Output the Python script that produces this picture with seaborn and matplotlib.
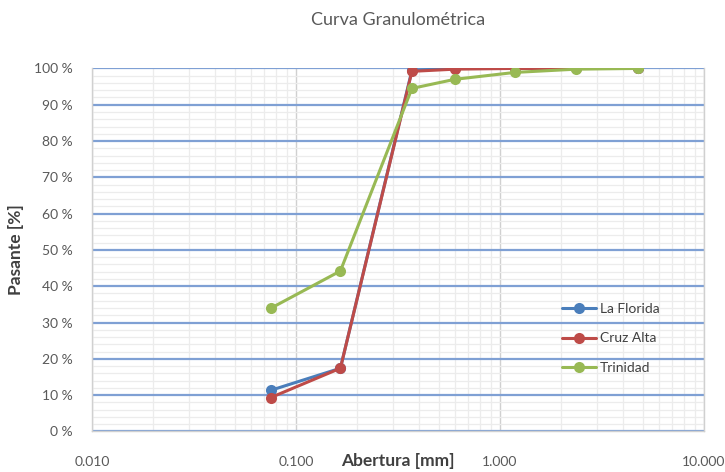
import pandas as pd
import seaborn as sns
from matplotlib import pyplot as plt
from matplotlib.ticker import FixedLocator, FuncFormatter, MultipleLocator, LogLocator

# abertura de tamices [mm]
abertura = [0.075, 0.165, 0.37, 0.60, 1.18, 2.36, 4.75]

# porcentaje pasante por muestra
la_florida = [11.3, 17.4, 99.5, 100.0, 100.0, 100.0, 100.0]
cruz_alta = [9.3, 17.4, 99.2, 99.8, 100.0, 100.0, 100.0]
trinidad = [33.9, 44.2, 94.5, 97.0, 98.9, 99.8, 100.0]

muestras = ['La Florida', 'Cruz Alta', 'Trinidad']
colores = ['#4a7ebb', '#be4b48', '#98b954']

# armar dataframe en formato largo para seaborn
frames = []
for nombre, valores in zip(muestras, [la_florida, cruz_alta, trinidad]):
    frames.append(pd.DataFrame({'Abertura': abertura, 'Pasante': valores, 'Muestra': nombre}))
data = pd.concat(frames, ignore_index=True)

sns.set_style('white')
plt.rcParams['font.family'] = ['Lato', 'DejaVu Sans']

fig, ax = plt.subplots(figsize=(7.25, 4.72), dpi=100)
fig.subplots_adjust(left=0.127, right=0.971, top=0.855, bottom=0.086)

sns.lineplot(data=data, x='Abertura', y='Pasante', hue='Muestra', hue_order=muestras,
             palette=colores, marker='o', markersize=8, markeredgewidth=0,
             linewidth=2.2, ax=ax, zorder=3)

ax.set_xscale('log')
ax.set_xlim(0.01, 10)
ax.set_ylim(0, 100)

# grillas como en excel
ax.xaxis.set_major_locator(FixedLocator([0.01, 0.1, 1, 10]))
ax.xaxis.set_minor_locator(LogLocator(base=10, subs=range(2, 10)))
ax.xaxis.set_major_formatter(FuncFormatter(lambda v, p: '{:,.3f}'.format(v)))
ax.xaxis.set_minor_formatter(FuncFormatter(lambda v, p: ''))
ax.yaxis.set_major_locator(MultipleLocator(10))
ax.yaxis.set_minor_locator(MultipleLocator(2))
ax.yaxis.set_major_formatter(FuncFormatter(lambda v, p: '{:.0f} %'.format(v)))

ax.grid(which='minor', axis='both', color='#ececec', linewidth=0.9, zorder=0)
ax.grid(which='major', axis='x', color='#d0d0d0', linewidth=1.0, zorder=0)
ax.grid(which='major', axis='y', color='#7fa0d4', linewidth=1.6, zorder=1)
ax.set_axisbelow(True)

for s in ax.spines.values():
    s.set_color('#d0d0d0')
    s.set_linewidth(1.0)
ax.spines['top'].set_visible(False)

ax.tick_params(which='both', length=0)
ax.tick_params(axis='x', pad=18, labelsize=10, labelcolor='#595959')
ax.tick_params(axis='y', pad=14, labelsize=10, labelcolor='#595959')

ax.set_title('Curva Granulométrica', fontsize=13, color='#595959', pad=31)
ax.set_xlabel('Abertura [mm]', fontsize=12.5, fontweight='bold', color='#404040')
ax.set_ylabel('Pasante [%]', fontsize=12.5, fontweight='bold', color='#404040')
ax.xaxis.set_label_coords(0.5, -0.06)
ax.yaxis.set_label_coords(-0.112, 0.5)

leg = ax.legend(loc='upper left', bbox_to_anchor=(0.748, 0.388), frameon=False,
                fontsize=10, labelspacing=1.25, handlelength=2.4, handletextpad=0.3)
for t in leg.get_texts():
    t.set_color('#404040')

fig.savefig('out.png', dpi=100)
